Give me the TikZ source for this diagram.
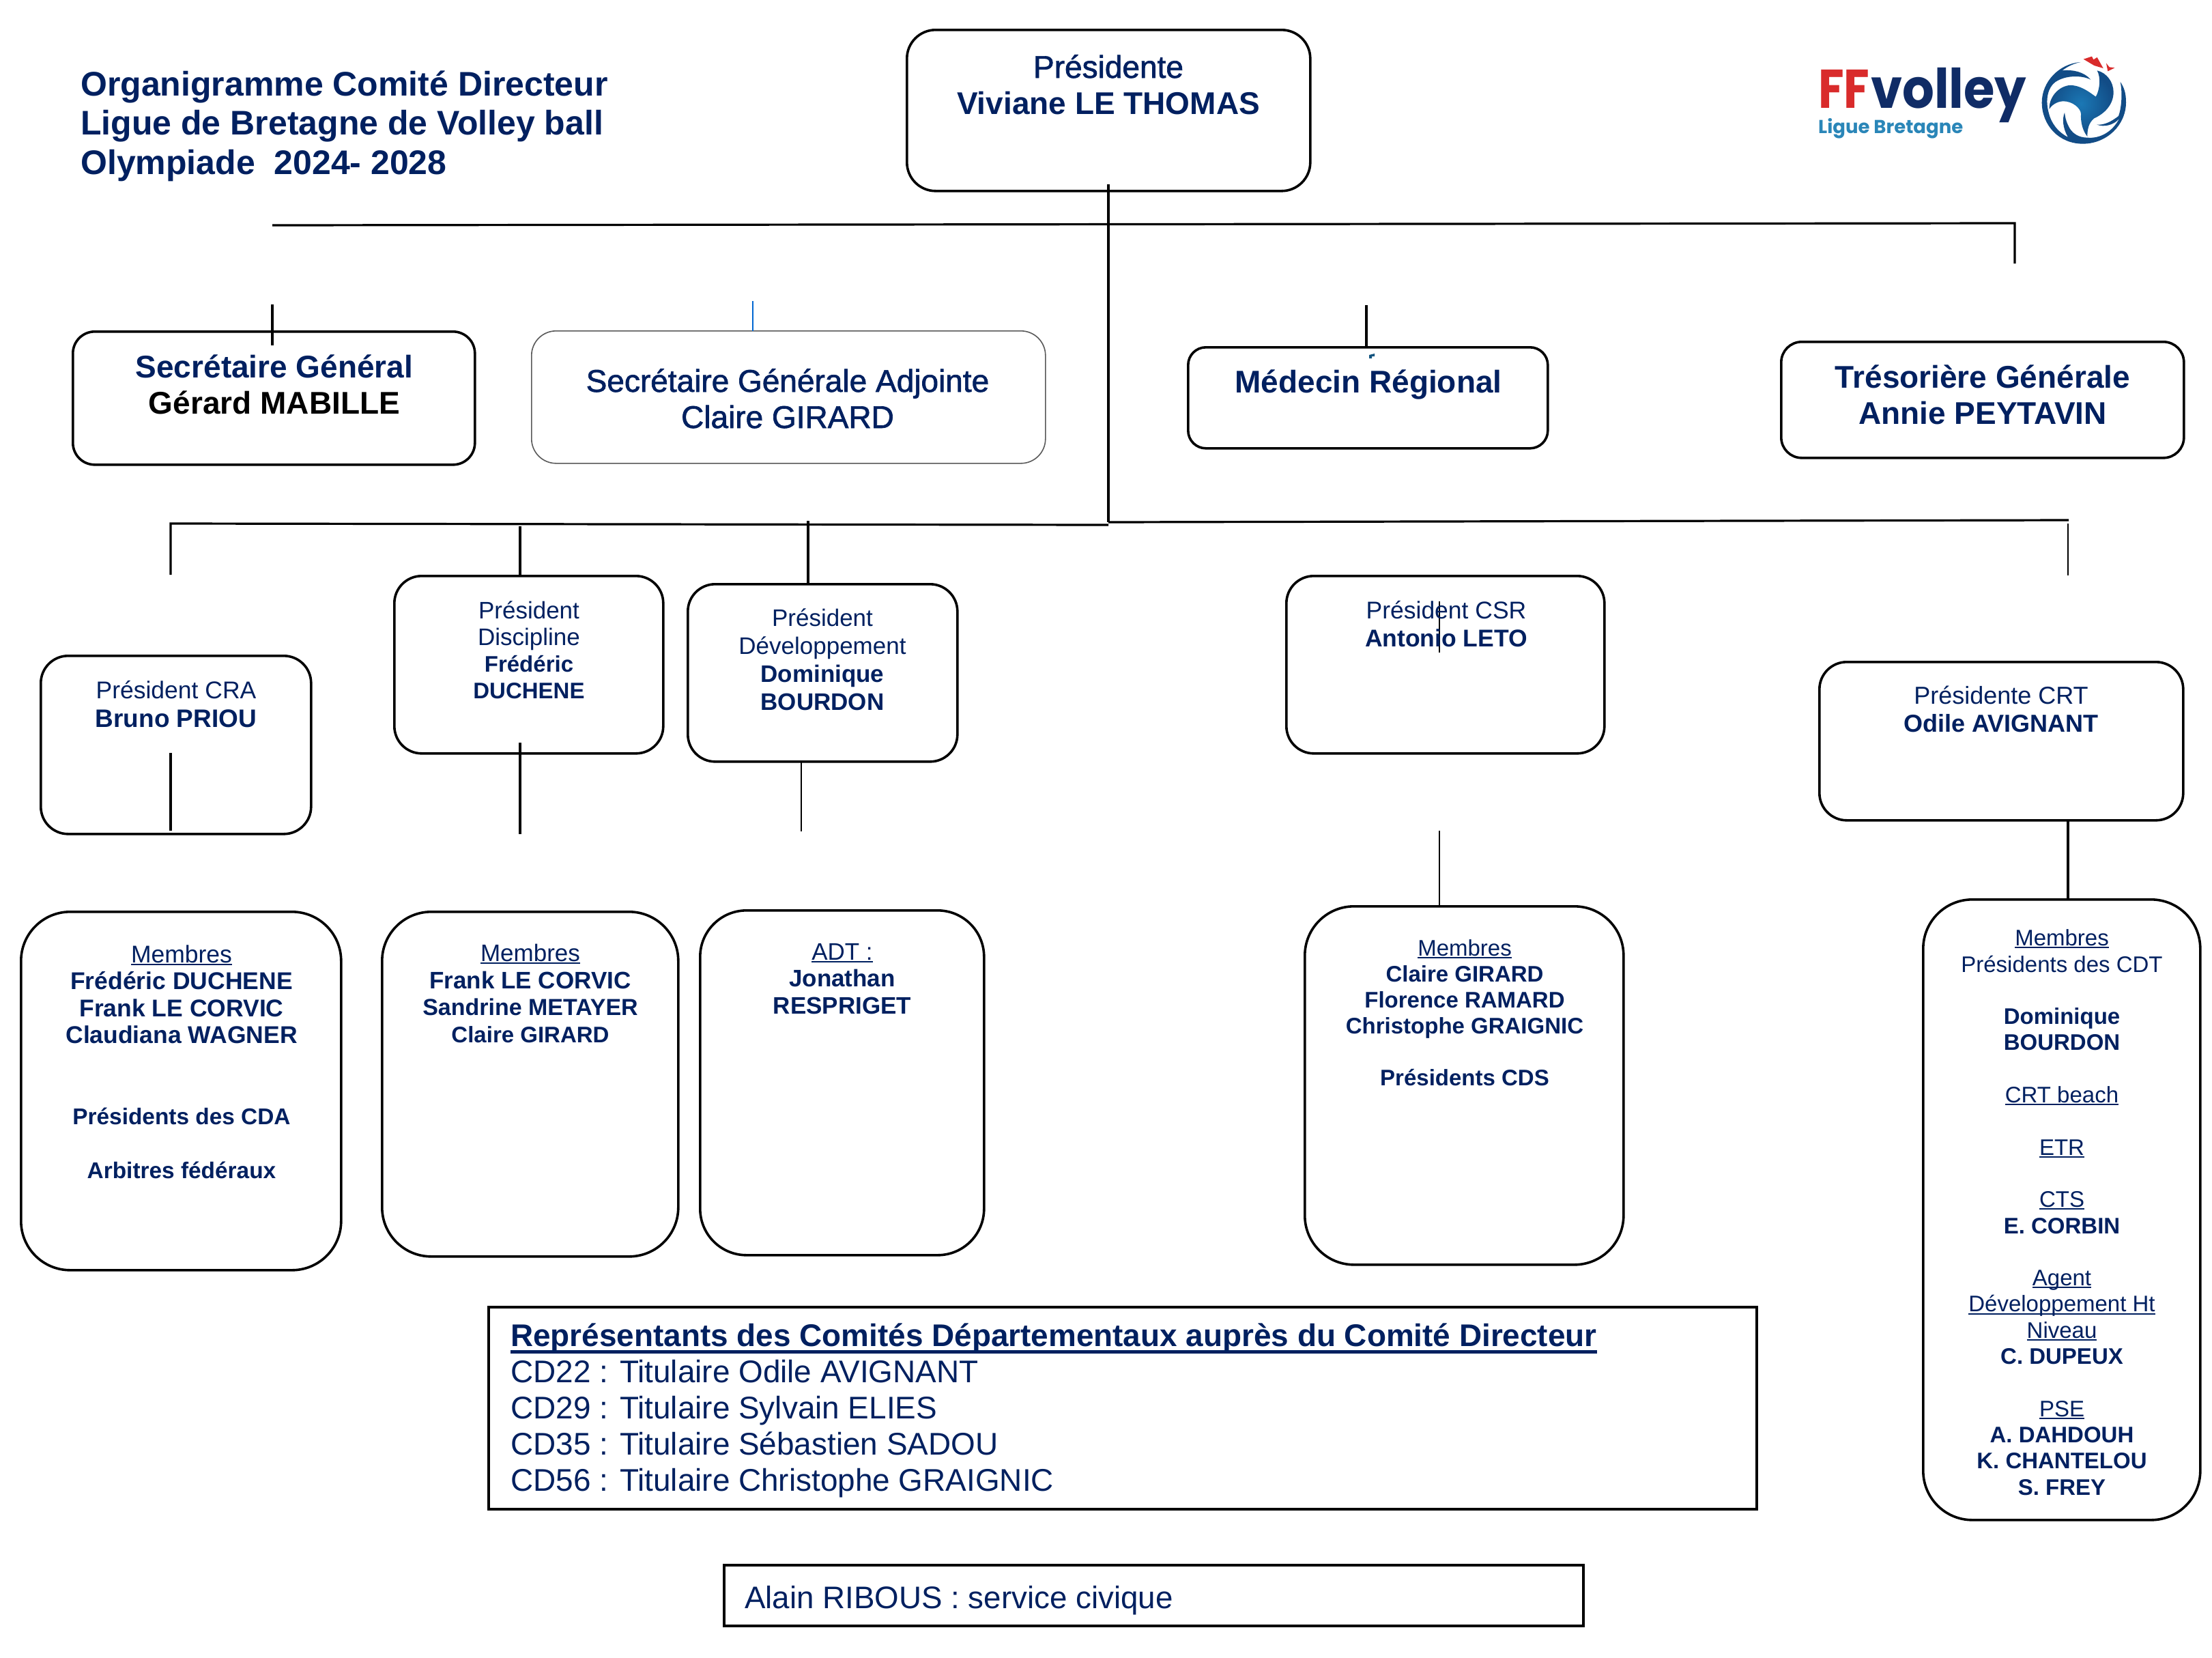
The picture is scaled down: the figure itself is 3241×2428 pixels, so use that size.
\documentclass[tikz,border=0pt]{standalone}
\usepackage{fontspec}
\setmainfont{Liberation Sans}
\newfontfamily\logofont{Poppins}
\newfontfamily\semi[FakeBold=1.5]{Liberation Sans}
\definecolor{navy}{HTML}{002060}
\definecolor{ballblue}{HTML}{124C86}
\definecolor{ballmid}{HTML}{1B78B5}
\definecolor{ffred}{HTML}{D92B2B}
\definecolor{ligblue}{HTML}{2A86B8}
\definecolor{volnavy}{HTML}{102C66}
\newcommand{\fsz}[2]{\fontsize{#1pt}{#2pt}\selectfont}
\newcommand{\bl}[1]{{\bfseries #1}}
\newcommand{\ulin}[1]{\leavevmode\setbox0\hbox{#1}\rlap{\rule[-0.11em]{\wd0}{0.06em}}\box0}
\newcommand{\ulinb}[1]{\leavevmode\setbox0\hbox{#1}\rlap{\rule[-0.24em]{\wd0}{0.1em}}\box0}
\tikzset{
  bx/.style={draw=black,line width=3.6pt,inner sep=0pt,anchor=north west,fill=white,xshift=-2pt,yshift=1pt},
  con/.style={draw=black,line width=3.2pt},
  lab/.style={text=navy,anchor=base,inner sep=0pt,align=center},
  labl/.style={text=navy,anchor=base west,inner sep=0pt,align=left},
}
\begin{document}
\begin{tikzpicture}[x=1pt,y=-1pt]
\useasboundingbox (0,0) rectangle (3241,2428);
\fill[white] (0,0) rectangle (3241,2428);
% boxes
\node[bx,rounded corners=42pt,minimum width=591pt,minimum height=236pt] (pres) at (1329,43) {};
\node[bx,rounded corners=32pt,minimum width=589pt,minimum height=195pt] (sg) at (107,485) {};
\node[bx,rounded corners=36pt,minimum width=753pt,minimum height=194pt,draw=black!65,line width=1.6pt] (sga) at (780,485) {};
\node[bx,rounded corners=26pt,minimum width=527pt,minimum height=148pt] (med) at (1741,508) {};
\node[bx,rounded corners=30pt,minimum width=590pt,minimum height=170pt] (tres) at (2610,500) {};
\node[bx,rounded corners=40pt,minimum width=396pt,minimum height=261pt] (cra) at (60,960) {};
\node[bx,rounded corners=40pt,minimum width=394pt,minimum height=260pt] (disc) at (578,843) {};
\node[bx,rounded corners=40pt,minimum width=395pt,minimum height=260pt] (dev) at (1008,855) {};
\node[bx,rounded corners=40pt,minimum width=466pt,minimum height=260pt] (csr) at (1885,843) {};
\node[bx,rounded corners=40pt,minimum width=533pt,minimum height=232pt] (crt) at (2666,969) {};
\node[bx,rounded corners=72pt,minimum width=469pt,minimum height=525pt] (mcra) at (31,1335) {};
\node[bx,rounded corners=72pt,minimum width=434pt,minimum height=505pt] (mdisc) at (560,1335) {};
\node[bx,rounded corners=68pt,minimum width=416pt,minimum height=505pt] (adt) at (1026,1333) {};
\node[bx,rounded corners=72pt,minimum width=406pt,minimum height=909pt] (mcrt) at (2818,1317) {};
\node[bx,rounded corners=72pt,minimum width=467pt,minimum height=525pt] (mcsr) at (1912,1327) {};
\node[bx,minimum width=1858pt,minimum height=296pt] (rep) at (716,1914) {};
\node[bx,minimum width=1259pt,minimum height=89pt] (alain) at (1061,2292) {};
% connector ends
\coordinate (ptop) at (1624,270);
\coordinate (pmid) at (1624,765);
\coordinate (hl) at (399,330);
\coordinate (hr) at (2952,327);
\coordinate (hrd) at (2952,386);
\coordinate (sgt) at (399,446);
\coordinate (sgb) at (399,506);
\coordinate (sgat) at (1103,441);
\coordinate (sgab) at (1103,485);
\coordinate (medt) at (2002,447);
\coordinate (medb) at (2002,508);
\coordinate (ll) at (250,767);
\coordinate (lr) at (1624,769);
\coordinate (rr) at (3031,762);
\coordinate (s1) at (250,842);
\coordinate (s2a) at (762,771);
\coordinate (s2b) at (762,845);
\coordinate (s3a) at (1184,763);
\coordinate (s3b) at (1184,855);
\coordinate (s4a) at (250,1103);
\coordinate (s4b) at (250,1217);
\coordinate (s5a) at (762,1088);
\coordinate (s5b) at (762,1222);
\coordinate (s6a) at (1174,1115);
\coordinate (s6b) at (1174,1218);
\coordinate (s7a) at (2109,881);
\coordinate (s7b) at (2109,956);
\coordinate (s8a) at (2109,1217);
\coordinate (s8b) at (2109,1329);
\coordinate (s9a) at (3030,767);
\coordinate (s9b) at (3030,843);
\coordinate (s10a) at (3030,1201);
\coordinate (s10b) at (3030,1317);
% connectors
\draw[con] (ptop) -- (pmid);
\draw[con] (hl) -- (hr) -- (hrd);
\draw[con] (sgt) -- (sgb);
\draw[draw=black!30!blue!60!cyan,line width=2.8pt] (sgat) -- (sgab);
\draw[con] (medt) -- (medb);
\draw[con] (s1) -- (ll) -- (lr);
\draw[con] (pmid) -- (rr);
\draw[con] (s2a) -- (s2b);
\draw[con] (s3a) -- (s3b);
\draw[con] (s4a) -- (s4b);
\draw[con] (s5a) -- (s5b);
\draw[con,line width=2.4pt] (s6a) -- (s6b);
\draw[con,line width=2.6pt] (s7a) -- (s7b);
\draw[con,line width=2.6pt] (s8a) -- (s8b);
\draw[con,line width=2.6pt] (s9a) -- (s9b);
\draw[con] (s10a) -- (s10b);
\fill[ballmid!70!black] (2006,520) -- (2014,518) -- (2014,522) -- (2010,522) -- (2010,525) -- (2006,525) -- cycle;
% title
\node[labl,font=\fsz{50}{57.5}\bfseries] (title) at (118,255) {Organigramme Comité Directeur\\Ligue de Bretagne de Volley ball\\Olympiade\ \ 2024- 2028};
% top labels
\node[lab,font=\fsz{46}{53}] (tpres) at (1624,167) {{\semi Présidente}\\\bl{Viviane LE THOMAS}};
\node[lab,font=\fsz{46}{53}] (tsg) at (402,606) {\bl{Secrétaire Général}\\\bl{\textcolor{black}{Gérard MABILLE}}};
\node[lab,font=\fsz{46}{53}] (tsga) at (1154,627) {{\semi Secrétaire Générale Adjointe}\\{\semi Claire GIRARD}};
\node[lab,font=\fsz{46}{53}\bfseries] (tmed) at (2005,575) {Médecin Régional};
\node[lab,font=\fsz{46}{53}] (ttres) at (2905,621) {\bl{Trésorière Générale}\\\bl{Annie PEYTAVIN}};
% presidents
\node[lab,font=\fsz{35.5}{41.5}] (tcra) at (258,1065) {Président CRA\\\bl{\fontsize{37}{41.5}\selectfont Bruno PRIOU}};
\node[lab,font=\fsz{35}{39}] (tdisc) at (775,1023) {Président\\Discipline\\\bl{\fontsize{33}{39}\selectfont Frédéric}\\\bl{\fontsize{33}{39}\selectfont DUCHENE}};
\node[lab,font=\fsz{35}{41}] (tdev) at (1205,1040) {Président\\Développement\\\bl{Dominique}\\\bl{BOURDON}};
\node[lab,font=\fsz{35.5}{41}] (tcsr) at (2119,947) {Président CSR\\\bl{Antonio LETO}};
\node[lab,font=\fsz{36}{41}] (tcrt) at (2932,1072) {Présidente CRT\\\bl{Odile AVIGNANT}};
% members
\node[lab,font=\fsz{35.5}{39.5}] (tmcra) at (266,1726) {\ulin{Membres}\\\bl{Frédéric DUCHENE}\\\bl{Frank LE CORVIC}\\\bl{Claudiana WAGNER}\\ \\ \\\bl{\fontsize{33.4}{39.5}\selectfont Présidents des CDA}\\ \\\bl{\fontsize{33.4}{39.5}\selectfont Arbitres fédéraux}};
\node[lab,font=\fsz{35}{39.5}] (tmdisc) at (777,1527) {\ulin{Membres}\\\bl{Frank LE CORVIC}\\\bl{\fontsize{34}{39.5}\selectfont Sandrine METAYER}\\\bl{\fontsize{33}{39.5}\selectfont Claire GIRARD}};
\node[lab,font=\fsz{35}{39.5}] (tadt) at (1234,1485) {\ulin{ADT :}\\\bl{Jonathan}\\\bl{RESPRIGET}};
\node[lab,font=\fsz{33}{38}] (tmcsr) at (2146,1590) {\ulin{Membres}\\\bl{Claire GIRARD}\\\bl{Florence RAMARD}\\\bl{Christophe GRAIGNIC}\\ \\\bl{Présidents CDS}};
\node[lab,font=\fsz{33}{38.3}] (tmcrt) at (3021,2190) {\ulin{Membres}\\Présidents des CDT\\ \\\bl{Dominique}\\\bl{BOURDON}\\ \\\ulin{CRT beach}\\ \\\ulin{ETR}\\ \\\ulin{CTS}\\\bl{E. CORBIN}\\ \\\ulin{Agent}\\\ulin{Développement Ht}\\\ulin{Niveau}\\\bl{C. DUPEUX}\\ \\\ulin{PSE}\\\bl{A. DAHDOUH}\\\bl{K. CHANTELOU}\\\bl{S. FREY}};
% bottom
\node[labl,font=\fsz{45.9}{53}] (trep) at (748,2184) {\ulinb{\bfseries Représentants des Comités Départementaux auprès du Comité Directeur}\\CD22 : Titulaire Odile AVIGNANT\\CD29 : Titulaire Sylvain ELIES\\CD35 : Titulaire Sébastien SADOU\\CD56 : Titulaire Christophe GRAIGNIC};
\node[labl,font=\fsz{45.7}{52}] (talain) at (1091,2356) {Alain RIBOUS : service civique};
% logo
\node[anchor=base west,inner sep=0pt,text=ffred,font=\fsz{80}{80}\logofont\bfseries,xscale=.86] (lff) at (2664,158) {FF};
\node[anchor=base west,inner sep=0pt,text=volnavy,font=\fsz{80}{80}\logofont\bfseries,xscale=.92] (lvol) at (2741,158) {volley};
\node[anchor=base west,inner sep=0pt,text=ligblue,font=\fsz{27.5}{28}\logofont\bfseries] (llig) at (2664,195) {Ligue Bretagne};
\begin{scope}[shift={(2980,70)},x=0.3333pt,y=-0.3333pt]
\fill[ballblue] (205,63) .. controls (110,70) and (35,150) .. (35,240)
 .. controls (35,340) and (110,422) .. (215,422)
 .. controls (320,422) and (405,340) .. (405,240)
 .. controls (405,200) and (397,175) .. (380,150)
 .. controls (390,200) and (385,265) .. (372,300)
 .. controls (340,325) and (310,340) .. (277,338)
 .. controls (310,350) and (350,340) .. (375,312)
 .. controls (345,370) and (290,400) .. (235,395)
 .. controls (195,395) and (165,375) .. (150,340)
 .. controls (140,320) and (137,300) .. (135,285)
 .. controls (125,310) and (125,350) .. (150,393)
 .. controls (105,370) and (75,330) .. (65,285)
 .. controls (50,230) and (60,175) .. (95,150)
 .. controls (140,120) and (210,120) .. (250,140)
 .. controls (220,105) and (170,95) .. (125,100)
 .. controls (150,80) and (180,68) .. (205,63) -- cycle;
\shade[inner color=ballmid,outer color=ballblue] (68,270)
 .. controls (65,210) and (120,160) .. (170,165)
 .. controls (215,170) and (250,200) .. (272,215)
 .. controls (290,185) and (295,130) .. (278,100)
 .. controls (320,110) and (350,150) .. (350,195)
 .. controls (350,250) and (310,290) .. (265,310)
 .. controls (240,330) and (235,360) .. (235,390)
 .. controls (215,365) and (205,330) .. (207,290)
 .. controls (205,265) and (170,235) .. (130,235)
 .. controls (100,235) and (75,255) .. (68,270) -- cycle;
\fill[ffred] (218,50) -- (255,38) -- (262,52) -- (278,42) -- (305,90) -- (265,78) -- cycle;
\fill[ffred] (318,68) -- (332,85) -- (355,88) -- (325,103) -- cycle;
\end{scope}
\end{tikzpicture}
\end{document}
